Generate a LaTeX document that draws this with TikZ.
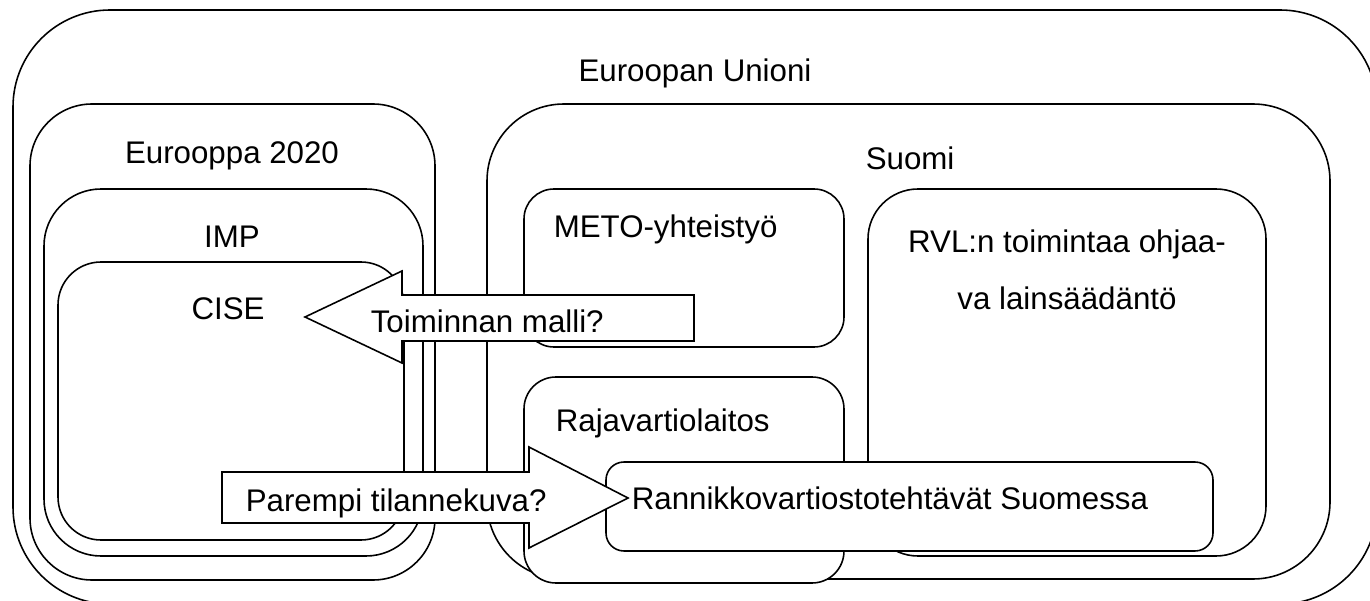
\documentclass[tikz,border=0pt]{standalone}
\usepackage{fontspec}
\setmainfont{Liberation Sans}

\begin{document}
\begin{tikzpicture}[
    x=0.02cm, y=-0.02cm,
    line width=0.9pt,
    every node/.style={font=\fontsize{17.8}{32.4}\selectfont, inner sep=0pt},
    panel/.style={draw, fill=white, rounded corners=#1},
    blockarrow/.style={draw, fill=white, line join=miter}
]

\useasboundingbox (0,0) rectangle (1370,601);

% Frames (outer first, so inner ones cover them)
\draw[panel=1.94cm] (13,10) rectangle (1377,604);    % EU
\draw[panel=1.24cm] (30,104) rectangle (435,580);    % Eurooppa 2020
\draw[panel=1.14cm] (44,189) rectangle (423,556);    % IMP
\draw[panel=0.86cm] (58,262) rectangle (404,540);    % CISE
\draw[panel=1.54cm] (487,104) rectangle (1330,579);  % Suomi
\draw[panel=0.6cm]  (524,189) rectangle (844,347);   % METO
\draw[panel=0.64cm] (524,377) rectangle (844,583);   % Raja
\draw[panel=1.0cm]  (868,189) rectangle (1266,556);  % RVL
\draw[panel=0.36cm] (606,462) rectangle (1213,551);  % Rannikko

% Block arrows
\draw[blockarrow] (694,295) -- (402,295) -- (402,271) -- (305,317)
    -- (402,363) -- (402,341) -- (694,341) -- cycle;
\draw[blockarrow] (222,472) -- (529,472) -- (529,447) -- (628,498)
    -- (529,548) -- (529,523) -- (222,523) -- cycle;

% Labels
\node[anchor=base] (eu) at (695,82) {Euroopan Unioni};
\node[anchor=base] (e2020) at (232,164) {Eurooppa 2020};
\node[anchor=base] (imp) at (232,248) {IMP};
\node[anchor=base] (cise) at (228,319) {CISE};
\node[anchor=base west] (suomi) at (865,170) {Suomi};
\node[anchor=base west] (meto) at (553,238) {METO-yhteistyö};
\node[anchor=base west] (raja) at (555,431) {Rajavartiolaitos};
\node[anchor=base] (rvl) at (1067,253) {RVL:n toimintaa ohjaa-};
\node[anchor=base] (rvl2) at (1067,310) {va lainsäädäntö};
\node[anchor=base west] (rannikko) at (631,509) {Rannikkovartiostotehtävät Suomessa};

% Arrow texts
\node[anchor=base west] (malli) at (370,333) {Toiminnan malli?};
\node[anchor=base west] (tilanne) at (245,511) {Parempi tilannekuva?};

\end{tikzpicture}
\end{document}
